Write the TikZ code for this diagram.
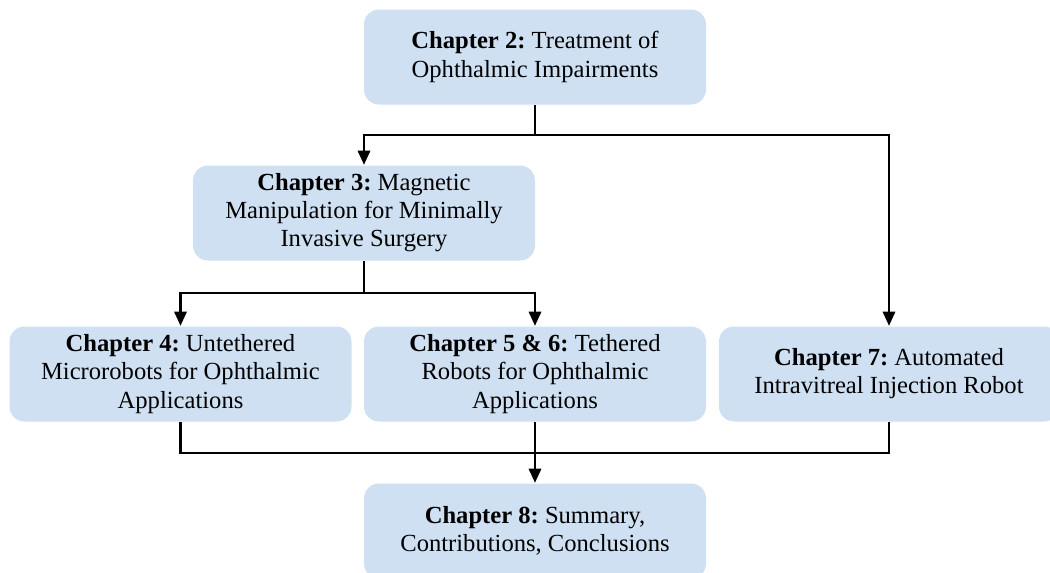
\documentclass[tikz,border=0pt]{standalone}
\usepackage{fontspec}
\setmainfont{Liberation Serif}
\usetikzlibrary{arrows.meta, positioning}
\definecolor{chapblue}{RGB}{207,224,242}
\frenchspacing

\begin{document}
\begin{tikzpicture}[thick, >={Triangle[width=7pt,length=8pt]}]
		
		% Define styles
		\tikzstyle{chapter} = [rectangle, rounded corners=0.3cm, fill=chapblue, text centered, align=center, minimum width=6.84cm, minimum height=1.9cm, font=\fontsize{14}{16}\selectfont]
		\tikzstyle{link} = [line width=1.2pt]
		
		\useasboundingbox (0,0) rectangle (21,-11.46);
		
		% Nodes
		\node[chapter] (ch2) at (10.7,-1.14) {\textbf{Chapter 2:} Treatment of\\Ophthalmic Impairments};
		\node[chapter] (ch3) at (7.28,-4.26) {\textbf{Chapter 3:} Magnetic\\Manipulation for Minimally\\Invasive Surgery};
		\node[chapter] (ch4) at (3.61,-7.48) {\textbf{Chapter 4:} Untethered\\Microrobots for Ophthalmic\\Applications};
		\node[chapter] (ch56) at (10.7,-7.48) {\textbf{Chapter 5 \& 6:} Tethered\\Robots for Ophthalmic\\Applications};
		\node[chapter, minimum width=6.8cm] (ch7) at (17.78,-7.48) {\textbf{Chapter 7:} Automated\\Intravitreal Injection Robot};
		\node[chapter] (ch8) at (10.7,-10.62) {\textbf{Chapter 8:} Summary,\\Contributions, Conclusions};
		
		% Branch points
		\coordinate (split1) at (10.7,-2.7);
		\coordinate (split2) at (7.28,-5.86);
		\coordinate (merge) at (10.7,-9.06);
		
		% Arrows
		\draw[link] (ch2.south) -- (split1);
		\draw[link, ->] (split1) -| (ch3.north);
		\draw[link, ->] (split1) -| (ch7.north);
		\draw[link] (ch3.south) -- (split2);
		\draw[link, ->] (split2) -| (ch4.north);
		\draw[link, ->] (split2) -| (ch56.north);
		\draw[link] (ch4.south) |- (merge);
		\draw[link] (ch7.south) |- (merge);
		\draw[link, ->] (ch56.south) -- (ch8.north);
		
\end{tikzpicture}
\end{document}
